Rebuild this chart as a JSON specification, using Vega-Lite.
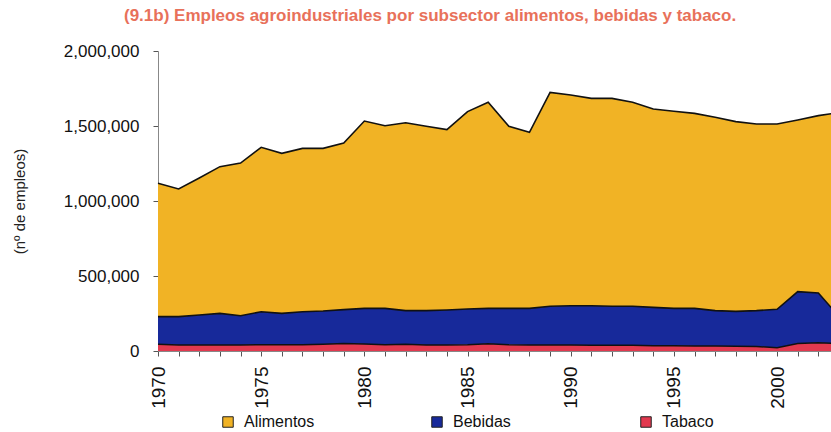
{
  "$schema": "https://vega.github.io/schema/vega-lite/v6.json",
  "width": 681,
  "height": 300,
  "autosize": {"type": "pad"},
  "padding": {"left": 12, "top": 7, "right": 0, "bottom": 0},
  "background": "white",
  "title": {
    "text": "(9.1b) Empleos agroindustriales por subsector alimentos, bebidas y tabaco.",
    "color": "#e8715a",
    "font": "Liberation Sans",
    "fontSize": 17,
    "fontWeight": "bold",
    "anchor": "start",
    "frame": "group",
    "dx": -34,
    "offset": 17
  },
  "config": {
    "view": {"stroke": null},
    "font": "Liberation Sans",
    "axis": {
      "grid": false,
      "domainColor": "#888888",
      "tickColor": "#555555",
      "labelColor": "#111111",
      "labelFont": "Liberation Sans",
      "titleFont": "Liberation Sans"
    }
  },
  "data": {
    "values": [
      {"año": 1970, "subsector": "Alimentos", "empleos": 889000}, {"año": 1970, "subsector": "Bebidas", "empleos": 184000}, {"año": 1970, "subsector": "Tabaco", "empleos": 45000},
      {"año": 1971, "subsector": "Alimentos", "empleos": 851000}, {"año": 1971, "subsector": "Bebidas", "empleos": 189000}, {"año": 1971, "subsector": "Tabaco", "empleos": 40000},
      {"año": 1972, "subsector": "Alimentos", "empleos": 913000}, {"año": 1972, "subsector": "Bebidas", "empleos": 200000}, {"año": 1972, "subsector": "Tabaco", "empleos": 40000},
      {"año": 1973, "subsector": "Alimentos", "empleos": 978000}, {"año": 1973, "subsector": "Bebidas", "empleos": 211000}, {"año": 1973, "subsector": "Tabaco", "empleos": 40000},
      {"año": 1974, "subsector": "Alimentos", "empleos": 1018000}, {"año": 1974, "subsector": "Bebidas", "empleos": 195000}, {"año": 1974, "subsector": "Tabaco", "empleos": 40000},
      {"año": 1975, "subsector": "Alimentos", "empleos": 1096000}, {"año": 1975, "subsector": "Bebidas", "empleos": 220000}, {"año": 1975, "subsector": "Tabaco", "empleos": 42000},
      {"año": 1976, "subsector": "Alimentos", "empleos": 1067000}, {"año": 1976, "subsector": "Bebidas", "empleos": 209000}, {"año": 1976, "subsector": "Tabaco", "empleos": 42000},
      {"año": 1977, "subsector": "Alimentos", "empleos": 1089000}, {"año": 1977, "subsector": "Bebidas", "empleos": 220000}, {"año": 1977, "subsector": "Tabaco", "empleos": 42000},
      {"año": 1978, "subsector": "Alimentos", "empleos": 1084000}, {"año": 1978, "subsector": "Bebidas", "empleos": 222000}, {"año": 1978, "subsector": "Tabaco", "empleos": 45000},
      {"año": 1979, "subsector": "Alimentos", "empleos": 1111000}, {"año": 1979, "subsector": "Bebidas", "empleos": 226000}, {"año": 1979, "subsector": "Tabaco", "empleos": 50000},
      {"año": 1980, "subsector": "Alimentos", "empleos": 1249000}, {"año": 1980, "subsector": "Bebidas", "empleos": 237000}, {"año": 1980, "subsector": "Tabaco", "empleos": 47000},
      {"año": 1981, "subsector": "Alimentos", "empleos": 1218000}, {"año": 1981, "subsector": "Bebidas", "empleos": 242000}, {"año": 1981, "subsector": "Tabaco", "empleos": 42000},
      {"año": 1982, "subsector": "Alimentos", "empleos": 1253000}, {"año": 1982, "subsector": "Bebidas", "empleos": 224000}, {"año": 1982, "subsector": "Tabaco", "empleos": 45000},
      {"año": 1983, "subsector": "Alimentos", "empleos": 1229000}, {"año": 1983, "subsector": "Bebidas", "empleos": 229000}, {"año": 1983, "subsector": "Tabaco", "empleos": 40000},
      {"año": 1984, "subsector": "Alimentos", "empleos": 1203000}, {"año": 1984, "subsector": "Bebidas", "empleos": 233000}, {"año": 1984, "subsector": "Tabaco", "empleos": 40000},
      {"año": 1985, "subsector": "Alimentos", "empleos": 1316000}, {"año": 1985, "subsector": "Bebidas", "empleos": 238000}, {"año": 1985, "subsector": "Tabaco", "empleos": 42000},
      {"año": 1986, "subsector": "Alimentos", "empleos": 1374000}, {"año": 1986, "subsector": "Bebidas", "empleos": 236000}, {"año": 1986, "subsector": "Tabaco", "empleos": 48000},
      {"año": 1987, "subsector": "Alimentos", "empleos": 1214000}, {"año": 1987, "subsector": "Bebidas", "empleos": 242000}, {"año": 1987, "subsector": "Tabaco", "empleos": 42000},
      {"año": 1988, "subsector": "Alimentos", "empleos": 1174000}, {"año": 1988, "subsector": "Bebidas", "empleos": 244000}, {"año": 1988, "subsector": "Tabaco", "empleos": 40000},
      {"año": 1989, "subsector": "Alimentos", "empleos": 1426000}, {"año": 1989, "subsector": "Bebidas", "empleos": 258000}, {"año": 1989, "subsector": "Tabaco", "empleos": 40000},
      {"año": 1990, "subsector": "Alimentos", "empleos": 1405000}, {"año": 1990, "subsector": "Bebidas", "empleos": 262000}, {"año": 1990, "subsector": "Tabaco", "empleos": 40000},
      {"año": 1991, "subsector": "Alimentos", "empleos": 1382000}, {"año": 1991, "subsector": "Bebidas", "empleos": 264000}, {"año": 1991, "subsector": "Tabaco", "empleos": 38000},
      {"año": 1992, "subsector": "Alimentos", "empleos": 1386000}, {"año": 1992, "subsector": "Bebidas", "empleos": 260000}, {"año": 1992, "subsector": "Tabaco", "empleos": 38000},
      {"año": 1993, "subsector": "Alimentos", "empleos": 1360000}, {"año": 1993, "subsector": "Bebidas", "empleos": 260000}, {"año": 1993, "subsector": "Tabaco", "empleos": 38000},
      {"año": 1994, "subsector": "Alimentos", "empleos": 1322000}, {"año": 1994, "subsector": "Bebidas", "empleos": 256000}, {"año": 1994, "subsector": "Tabaco", "empleos": 35000},
      {"año": 1995, "subsector": "Alimentos", "empleos": 1314000}, {"año": 1995, "subsector": "Bebidas", "empleos": 249000}, {"año": 1995, "subsector": "Tabaco", "empleos": 35000},
      {"año": 1996, "subsector": "Alimentos", "empleos": 1300000}, {"año": 1996, "subsector": "Bebidas", "empleos": 251000}, {"año": 1996, "subsector": "Tabaco", "empleos": 33000},
      {"año": 1997, "subsector": "Alimentos", "empleos": 1289000}, {"año": 1997, "subsector": "Bebidas", "empleos": 236000}, {"año": 1997, "subsector": "Tabaco", "empleos": 33000},
      {"año": 1998, "subsector": "Alimentos", "empleos": 1265000}, {"año": 1998, "subsector": "Bebidas", "empleos": 232000}, {"año": 1998, "subsector": "Tabaco", "empleos": 32000},
      {"año": 1999, "subsector": "Alimentos", "empleos": 1244000}, {"año": 1999, "subsector": "Bebidas", "empleos": 239000}, {"año": 1999, "subsector": "Tabaco", "empleos": 30000},
      {"año": 2000, "subsector": "Alimentos", "empleos": 1235000}, {"año": 2000, "subsector": "Bebidas", "empleos": 256000}, {"año": 2000, "subsector": "Tabaco", "empleos": 22000},
      {"año": 2001, "subsector": "Alimentos", "empleos": 1144000}, {"año": 2001, "subsector": "Bebidas", "empleos": 346000}, {"año": 2001, "subsector": "Tabaco", "empleos": 50000},
      {"año": 2002, "subsector": "Alimentos", "empleos": 1182000}, {"año": 2002, "subsector": "Bebidas", "empleos": 332000}, {"año": 2002, "subsector": "Tabaco", "empleos": 55000},
      {"año": 2003, "subsector": "Alimentos", "empleos": 1360000}, {"año": 2003, "subsector": "Bebidas", "empleos": 180000}, {"año": 2003, "subsector": "Tabaco", "empleos": 50000}
    ]
  },
  "encoding": {
    "x": {
      "field": "año",
      "type": "quantitative",
      "scale": {"domain": [1970, 2003], "nice": false, "zero": false},
      "axis": {
        "title": null,
        "values": [1970,1971,1972,1973,1974,1975,1976,1977,1978,1979,1980,1981,1982,1983,1984,1985,1986,1987,1988,1989,1990,1991,1992,1993,1994,1995,1996,1997,1998,1999,2000,2001,2002,2003],
        "labelExpr": "datum.value % 5 === 0 ? datum.label : ''",
        "format": "d",
        "labelAngle": 270,
        "labelAlign": "right",
        "labelBaseline": "middle",
        "labelFontSize": 19,
        "labelPadding": 10,
        "tickSize": 5,
        "labelOverlap": false,
        "labelFlush": false
      }
    },
    "y": {
      "field": "empleos",
      "type": "quantitative",
      "stack": "zero",
      "scale": {"domain": [0, 2000000], "nice": false},
      "axis": {
        "title": "(nº de empleos)",
        "values": [0, 500000, 1000000, 1500000, 2000000],
        "format": ",d",
        "labelFontSize": 17,
        "labelPadding": 14,
        "tickSize": 5,
        "titleFontSize": 15,
        "titleFontWeight": "normal",
        "titleColor": "#222222",
        "titlePadding": 36
      }
    },
    "order": {"field": "subsector", "sort": "descending"}
  },
  "layer": [
    {
      "mark": {"type": "area", "opacity": 1},
      "encoding": {
        "color": {
          "field": "subsector",
          "type": "nominal",
          "scale": {"domain": ["Alimentos", "Bebidas", "Tabaco"], "range": ["#f1b325", "#17299a", "#e2394f"]},
          "legend": {
            "title": null,
            "orient": "none",
            "legendX": 62,
            "legendY": 363,
            "direction": "horizontal",
            "columns": 3,
            "gridAlign": "all",
            "columnPadding": 114,
            "symbolType": "square",
            "symbolSize": 110,
            "symbolOpacity": 1,
            "symbolStrokeColor": "#222222",
            "symbolStrokeWidth": 1,
            "labelFontSize": 16,
            "labelColor": "#111111",
            "labelOffset": 8,
            "padding": 0
          }
        }
      }
    },
    {
      "mark": {"type": "line", "color": "#111111", "strokeWidth": 1.6},
      "encoding": {
        "detail": {"field": "subsector", "type": "nominal"}
      }
    }
  ]
}
